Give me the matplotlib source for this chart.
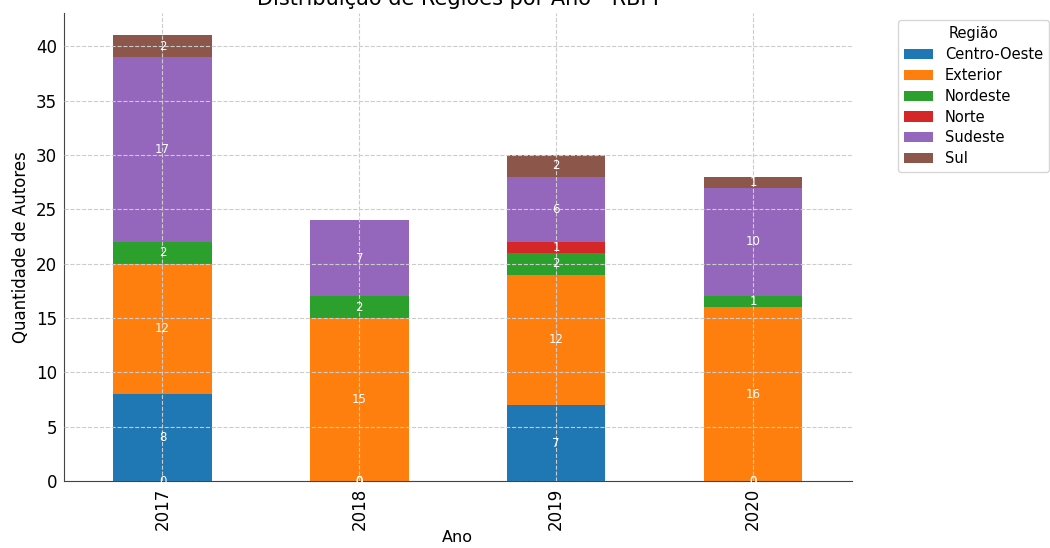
import numpy as np
import matplotlib.pyplot as plt

# dados
anos = ["2017", "2018", "2019", "2020"]
regioes = ["Centro-Oeste", "Exterior", "Nordeste", "Norte", "Sudeste", "Sul"]
centro_oeste = [8, 0, 7, 0]
exterior = [12, 15, 12, 16]
nordeste = [2, 2, 2, 1]
norte = [0, 0, 1, 0]
sudeste = [17, 7, 6, 10]
sul = [2, 0, 2, 1]

series = [centro_oeste, exterior, nordeste, norte, sudeste, sul]
cores = ["#1f77b4", "#ff7f0e", "#2ca02c", "#d62728", "#9467bd", "#8c564b"]

fig = plt.figure(figsize=(10.5, 5.48), dpi=100)
ax = fig.add_axes([0.061, 0.122, 0.750, 0.854])

x = np.arange(len(anos))
pos_prior = np.zeros(len(anos))
for nome, vals, cor in zip(regioes, series, cores):
    vals = np.array(vals, dtype=float)
    # valores zero ficam na base (como no pandas)
    base = np.where(vals > 0, pos_prior, 0)
    bars = ax.bar(x, vals, 0.5, bottom=base, color=cor, label=nome)
    ax.bar_label(bars, label_type="center", color="white", fontsize=8.5)
    pos_prior = pos_prior + vals

ax.set_xlim(-0.5, len(anos) - 0.5)
ax.set_ylim(0, pos_prior.max() * 1.05)
ax.set_xticks(x)
ax.set_xticklabels(anos, rotation=90, fontsize=12)
ax.tick_params(axis="both", labelsize=12, length=0, pad=5)
ax.set_xlabel("Ano", fontsize=11.5, labelpad=0)
ax.set_ylabel("Quantidade de Autores", fontsize=12)
ax.set_title("Distribuição de Regiões por Ano - RBPI", fontsize=15)
ax.grid(True, linestyle="--", color="#cccccc", linewidth=0.8)
ax.set_axisbelow(False)
for s in ["top", "right"]:
    ax.spines[s].set_visible(False)
for s in ["left", "bottom"]:
    ax.spines[s].set_color("#444444")

ax.legend(title="Região", bbox_to_anchor=(1.05, 1), loc="upper left", fontsize=10.5, title_fontsize=10.5,
          labelspacing=0.4)

plt.savefig("out.png")
